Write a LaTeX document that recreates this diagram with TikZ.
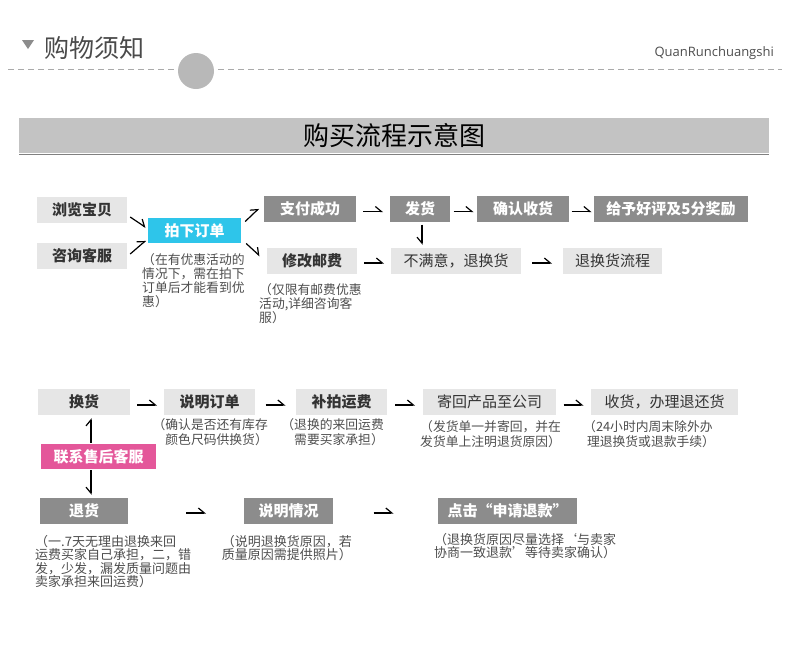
\documentclass[tikz,border=0pt]{standalone}
\usepackage{fontspec}
\setmainfont{Noto Sans CJK SC}
\newfontfamily\latinfont{Open Sans}
\usetikzlibrary{arrows.meta,calc}
\definecolor{lightbox}{HTML}{E6E6E6}
\definecolor{darkbox}{HTML}{8C8C8C}
\definecolor{cyanbox}{HTML}{2EC5EA}
\definecolor{pinkbox}{HTML}{E4579A}
\definecolor{boxtext}{HTML}{333333}
\definecolor{notetext}{HTML}{4D4D4D}
\definecolor{banner}{HTML}{C3C3C3}
\definecolor{dashgray}{HTML}{AAAAAA}
\definecolor{circgray}{HTML}{B8B8B8}
\definecolor{headtext}{HTML}{4A4A4A}
\tikzset{
  box/.style={minimum height=26pt, inner sep=0pt, font=\fontsize{15}{16}\selectfont\bfseries},
  lbox/.style={box, fill=lightbox, text=boxtext},
  lboxr/.style={lbox, font=\fontsize{15}{16}\selectfont},
  dbox/.style={box, fill=darkbox, text=white},
  note/.style={font=\fontsize{12.8}{14}\selectfont, text=notetext, inner sep=0pt, align=left, anchor=north west},
  noter/.style={note, align=right, anchor=north east},
  harp/.style={-{Straight Barb[left,length=6pt,width=10pt]}, line width=1.2pt, black},
  harpr/.style={-{Straight Barb[right,length=6pt,width=10pt]}, line width=1.2pt, black}
}
\begin{document}
\begin{tikzpicture}[x=1pt,y=-1pt]
\useasboundingbox (0,0) rectangle (790,649);
% header
\fill[fill=darkbox] (22,40) -- (34,40) -- (28,49) -- cycle;
\node[anchor=west, inner sep=0pt, text=headtext, font=\fontsize{25}{28}\selectfont] (head) at (44,48) {购物须知};
\draw[dashgray, line width=1pt, dash pattern=on 6pt off 4pt] (8,69) -- (782,69);
\fill[circgray] (196,71) circle (18);
\node[anchor=east, inner sep=0pt, text=notetext, font=\latinfont\fontsize{13}{15}\selectfont] (brand) at (774,53) {QuanRunchuangshi};
% banner
\fill[banner] (19,118) rectangle (769,153);
\draw[gray, line width=1.5pt] (19,154.5) -- (769,154.5);
\node[inner sep=0pt, font=\fontsize{26}{28}\selectfont, text=black] (title) at (394,136) {购买流程示意图};

% row 1
\node[lbox, minimum width=90pt] (lb) at (82,210) {浏览宝贝};
\node[lbox, minimum width=90pt] (zx) at (82,256) {咨询客服};
\node[box, fill=cyanbox, text=white, minimum width=93pt, minimum height=25pt] (px) at (194.5,230.5) {拍下订单};
\node[dbox, minimum width=92pt] (zf) at (310,208.5) {支付成功};
\node[lbox, minimum width=90pt] (xg) at (312,261) {修改邮费};
\node[dbox, minimum width=60pt] (fh) at (420,208.5) {发货};
\node[dbox, minimum width=92pt] (qr) at (523,208.5) {确认收货};
\node[dbox, minimum width=154pt] (gy) at (671,208.5) {给予好评及5分奖励};
\node[lboxr, minimum width=130pt] (bm) at (456,261) {不满意，退换货};
\node[lboxr, minimum width=99pt] (thl) at (612.5,261) {退换货流程};

\node[note] (n1) at (142,253) {（在有优惠活动的\\情况下，需在拍下\\订单后才能看到优\\惠）};
\node[note] (n2) at (259,283) {（仅限有邮费优惠\\活动,详细咨询客\\服）};

\draw[harp] ($(lb.east)+(3,7)$) -- ($(px.west)+(-2,-3)$);
\draw[harp] ($(zx.east)+(3,-2)$) -- ($(px.west)+(-2,10)$);
\draw[harp] ($(px.east)+(4,-9)$) -- ($(zf.west)+(-5,0)$);
\draw[harp] ($(px.east)+(5,13)$) -- ($(xg.west)+(-7,-5)$);
\draw[harp] ($(zf.east)!.5!(fh.west)+(-10,3)$) -- ++(20,0);
\draw[harp] ($(fh.east)!.5!(qr.west)+(-10,3)$) -- ++(20,0);
\draw[harp] ($(qr.east)!.5!(gy.west)+(-10,3)$) -- ++(20,0);
\draw[harp] ($(xg.east)!.5!(bm.west)+(-10,2)$) -- ++(20,0);
\draw[harp] ($(bm.east)!.5!(thl.west)+(-10,2)$) -- ++(20,0);
\draw[harpr] ($(fh.south)+(2,3)$) -- ($(bm.north -| fh.south)+(2,-3)$);

% row 2
\node[lbox, minimum width=92pt] (hh) at (84,402) {换货};
\node[lbox, minimum width=91pt] (sd) at (209.5,402) {说明订单};
\node[lbox, minimum width=91pt] (bp) at (341.5,402) {补拍运费};
\node[lboxr, minimum width=133pt] (jh) at (489.5,402) {寄回产品至公司};
\node[lboxr, minimum width=147pt] (sh) at (664.5,402) {收货，办理退还货};
\node[box, fill=pinkbox, text=white, minimum width=115pt, minimum height=25pt] (lx) at (98.5,456.5) {联系售后客服};

\node[noter, font=\fontsize{12.8}{15.5}\selectfont] (n3) at (268,418) {（确认是否还有库存\\颜色尺码供换货）};
\node[noter, font=\fontsize{12.8}{15.5}\selectfont] (n4) at (384,418) {（退换的来回运费\\需要买家承担）};
\node[note, font=\fontsize{12.8}{15.5}\selectfont] (n5) at (420,420) {（发货单一并寄回，并在\\发货单上注明退货原因）};
\node[note, font=\fontsize{12.8}{15.5}\selectfont] (n6) at (583,420) {（24小时内周末除外办\\\hspace*{0.3em}理退换货或退款手续）};

\draw[harp] ($(hh.east)!.5!(sd.west)+(-10,3)$) -- ++(20,0);
\draw[harp] ($(sd.east)!.5!(bp.west)+(-10,3)$) -- ++(20,0);
\draw[harp] ($(bp.east)!.5!(jh.west)+(-10,3)$) -- ++(20,0);
\draw[harp] ($(jh.east)!.5!(sh.west)+(-10,3)$) -- ++(20,0);

% row 3
\node[dbox, minimum width=88pt] (tg) at (84,511) {退货};
\node[dbox, minimum width=89pt] (sq) at (288.5,511) {说明情况};
\node[dbox, minimum width=139pt] (dj) at (507.5,511) {点击“申请退款”};

\coordinate (ax) at (91,0);
\draw[harp] ($(ax |- lx.north)+(0,-1)$) -- ($(ax |- hh.south)+(0,3)$);
\draw[harpr] ($(ax |- lx.south)+(0,1)$) -- ($(ax |- tg.north)+(0,-3)$);

\node[note, font=\fontsize{13}{13.5}\selectfont] (n7) at (35,535) {（一.7天无理由退换来回\\运费买家自己承担，二，错\\发，少发，漏发质量问题由\\卖家承担来回运费）};
\node[noter, font=\fontsize{13}{13.5}\selectfont] (n8) at (352,535) {（说明退换货原因，若\\质量原因需提供照片）};
\node[note, font=\fontsize{13}{13.5}\selectfont] (n9) at (434,533) {（退换货原因尽量选择‘与卖家\\协商一致退款’等待卖家确认）};

\draw[harp] ($(tg.east)!.5!(sq.west)+(0,2)$) -- ++(20,0);
\draw[harp] ($(sq.east)!.5!(dj.west)+(-12,2)$) -- ++(20,0);
\end{tikzpicture}
\end{document}
